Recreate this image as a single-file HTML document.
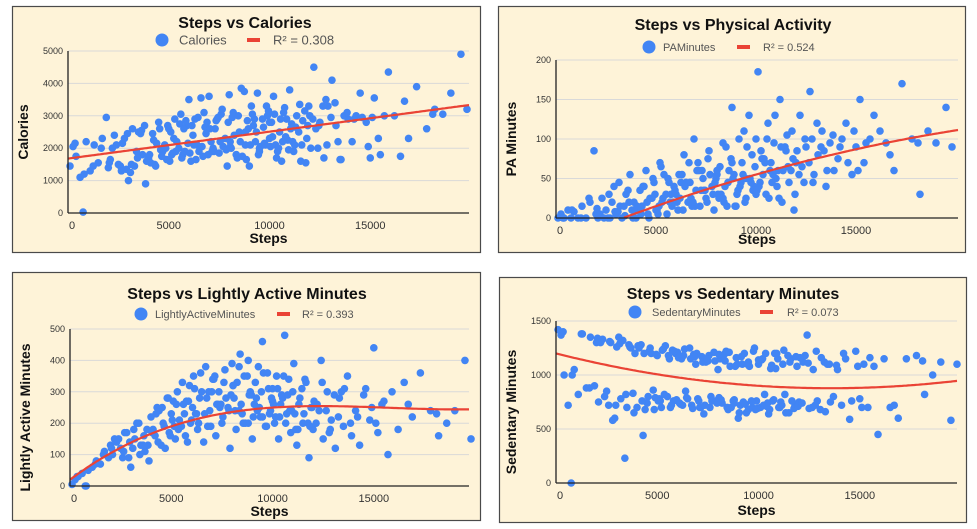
<!DOCTYPE html>
<html><head><meta charset="utf-8"><style>
html,body{margin:0;padding:0;background:#fff;}
svg{display:block;font-family:"Liberation Sans",Arial,sans-serif;}
</style></head><body>
<svg id="root" width="977" height="529" viewBox="0 0 977 529"></svg>
<script>
// ---- data ----
const steps = [
100,250,400,600,750,900,1100,1300,1500,1700,1900,2000,
2100,2300,2500,2700,2900,3000,3200,3300,3500,3700,3800,3900,
4000,4200,4300,4500,4600,4800,4900,5000,5200,5300,5500,5600,5800,5900,
6000,6100,6300,6400,6600,6700,6900,7000,7200,7300,7500,7600,7800,7900,8000,
8100,8200,8400,8500,8600,8800,8900,9000,9100,9300,9400,9500,9700,9800,9900,10000,
10100,10200,10300,10500,10600,10700,10900,11000,11200,11300,11500,11600,11800,11900,
12000,12200,12400,12500,12700,12900,13100,13300,13500,13700,13900,
14100,14300,14500,14800,15000,15200,15400,15700,15900,
16200,16500,16900,17300,17800,18200,18600,19000,19500,19800,
2200,2600,2800,3100,3400,3600,
4100,4400,4700,5100,5400,5700,
6200,6500,6800,7100,7400,7700,
8250,8650,8950,9250,9550,9850,
10150,10450,10850,11150,11450,11750,
12300,12800,13400];
const stepsExtra = [
350,800,1250,1650,2050,2400,2650,2950,3150,3450,3650,3850,
4050,4250,4350,4550,4650,4850,4950,5050,5250,5350,5550,5650,5850,5950,
6050,6150,6350,6450,6650,6750,6950,7050,7250,7350,7550,7650,7850,7950,
8050,8150,8350,8450,8550,8750,8850,9050,9150,9350,9450,9650,9750,9950,
10050,10250,10350,10550,10650,10750,10950,11050,11250,11350,11550,11650,11850,11950,
12050,12150,12450,12650,12850,13050,13250,13550,13850,
14200,14600,14900,15100,15500,16700,18100,
5150,5750,6250,6850,7150,7450,8050,8350,8800,9200,9500,10000,10400,10800,11100];
const calories = [
1450,2050,1750,1100,30,2200,1300,2100,1550,2300,2950,1400,
1650,2400,1500,2150,1350,1000,2600,1450,2500,1800,2700,1600,
1700,2450,1500,2800,1950,2100,1650,2600,1850,2900,2000,3050,1900,2700,
3500,1600,2900,2100,3550,1750,2800,3600,2000,2600,1850,3050,2300,1450,3650,
2000,3100,1700,2500,3850,2100,2850,1450,3300,2200,3700,1900,2650,2100,3000,2300,
2800,3600,2100,2500,1600,3100,2250,3800,1900,2650,3350,2100,1550,2700,
3000,4500,2000,2800,1700,3300,4100,2700,1650,3000,2900,
2200,3000,3700,2800,1700,3550,2300,3000,4350,
3000,1750,2300,3900,2600,3200,3050,3700,4900,3200,
2000,1450,2300,1250,1900,2450,
1550,2150,1900,2500,2200,1800,
2400,1900,2650,2200,2900,2050,
2400,1750,2600,2900,2050,3300,
2350,2000,2900,2200,2500,3150,
2600,3500,2200];
const caloriesExtra = [
2150,1200,1450,2000,1550,2100,1300,2450,1500,1700,2550,900,
1800,2250,1450,2600,1750,2000,2700,1600,2300,1900,2750,1700,2850,2150,
1850,2700,1650,2950,2050,3100,1800,2600,1900,2850,2200,3200,1950,2800,
2050,2950,1800,3000,2200,3750,1650,2100,3050,2500,1800,2900,2150,3150,
2050,3050,1700,2900,2200,3250,1950,2600,2100,3000,1600,2850,2300,3300,
2000,2900,2700,3300,2100,2950,3400,1650,3100,
2900,2950,2050,2950,1800,3450,3050,
1800,2600,2100,2450,1900,2950,2200,1800,2500,2700,2000,2800,1900,2350,2750];
const paMinutes = [
0,5,0,10,0,8,0,15,0,20,85,5,
0,25,10,0,40,5,15,0,30,55,10,20,
0,35,15,60,5,25,45,10,70,20,30,50,15,40,
30,10,55,80,20,45,100,35,15,60,25,75,40,10,50,
30,65,20,90,45,140,55,15,35,70,110,25,50,80,40,100,
185,45,75,30,120,60,95,50,150,20,85,65,110,10,
70,130,45,90,160,55,80,110,40,95,60,
75,100,120,55,90,150,70,100,130,
110,95,60,170,100,30,110,95,140,90,
5,0,20,8,15,35,
10,40,25,5,55,20,
25,45,15,70,35,55,
30,60,15,45,90,35,
40,70,55,25,90,60,
65,100,85];
const paMinutesExtra = [
0,10,0,25,12,0,30,8,45,3,20,0,
15,5,40,20,0,50,30,10,65,25,5,45,20,35,
20,55,10,40,70,25,15,60,35,50,20,85,30,45,
60,25,95,40,15,75,50,30,100,55,20,130,45,65,
35,85,55,100,25,70,130,40,90,60,105,45,75,30,
85,55,100,70,45,120,90,60,105,
90,70,110,60,95,80,95,
15,30,45,20,60,35,55,25,70,40,50,30,75,45,60];
const lightlyActive = [
5,20,30,40,0,50,60,80,70,110,90,130,
100,140,120,170,90,60,150,200,130,110,180,80,
220,160,250,130,200,280,170,230,150,300,190,260,140,320,
210,350,180,280,140,380,240,300,160,260,200,330,250,120,390,
280,180,420,230,350,200,300,150,260,380,220,460,190,310,240,270,
200,350,150,280,480,230,170,300,130,260,200,340,90,250,
180,260,400,150,300,210,120,280,190,350,160,
240,130,290,210,440,170,260,100,300,
180,330,220,360,240,160,200,240,400,150,
150,90,170,120,200,130,
180,240,120,270,210,160,
230,300,190,340,250,280,
330,200,290,240,360,230,
220,290,240,180,310,200,
240,170,300];
const lightlyActiveExtra = [
30,0,70,100,120,150,110,140,180,100,160,130,
170,230,140,250,190,280,160,210,260,180,330,230,270,200,
250,310,200,360,230,280,190,340,260,300,220,370,240,290,
320,240,380,260,200,350,290,220,330,250,300,190,360,280,
260,310,220,350,200,290,240,390,180,280,230,330,190,250,
270,200,330,240,180,290,220,310,200,
220,310,250,200,270,260,230,
190,270,230,300,350,260,320,240,400,280,220,310,260,340,230];
const sedentary = [
1420,1370,1000,720,0,1050,820,1380,880,1350,900,1300,
750,1330,850,1300,600,1260,780,1320,700,1250,830,1200,
700,1280,440,740,1220,860,790,1180,700,1240,800,1150,760,1200,
1210,740,1180,850,1250,720,1100,780,1170,640,1130,700,1210,760,1050,
1150,740,1220,680,1080,770,1160,600,720,1200,650,1120,700,1250,760,1100,
700,1150,820,640,1060,760,1200,700,1100,820,650,1150,720,1080,
750,1120,1370,690,1050,760,1160,660,1100,800,1050,
720,1150,590,1220,780,1100,700,1080,450,
1150,700,600,1150,1180,820,1000,1120,580,1100,
1300,720,580,1350,230,1280,
1250,680,1200,780,1270,720,
1150,780,1190,700,1120,760,
1170,700,1100,750,1080,680,
1140,740,1060,720,1180,690,
1180,720,1100];
const sedentaryExtra = [
1400,1000,1380,880,1340,800,1310,720,1290,820,1260,650,
1270,760,1200,800,1250,680,1190,760,1230,820,1180,700,1220,770,
1160,730,1240,790,1150,690,1200,760,1120,720,1180,800,1130,740,
1190,770,1130,700,1210,760,1080,650,1170,730,1100,760,1220,690,
1130,720,1200,680,1090,770,1150,700,1230,650,1120,760,1170,710,
1160,740,1110,700,1220,680,1120,750,1090,
1200,760,1080,700,1160,720,1130,
760,1230,720,1170,700,1150,790,1200,740,1100,680,1140,710,1200,750];
const xTicks = [0,5000,10000,15000];
const calTicks = [0,1000,2000,3000,4000,5000];
const paTicks = [0,50,100,150,200];
const laTicks = [0,100,200,300,400,500];
const sedTicks = [0,500,1000,1500];
// trend coefficients (x in thousands of steps): c0 + c1*x + c2*x^2 + c3*x^3
const calTrend = [1680,83,0,0];
const paTrend = [-33,10.4,-0.16,0];
const laTrend = [20,48.4,-3.225,0.0683];
const sedTrend = [1200,-47.5,1.75,0];

const allSteps = steps.concat(stepsExtra);

const NS="http://www.w3.org/2000/svg";
const root=document.getElementById('root');
function mk(tag,attrs,parent){const e=document.createElementNS(NS,tag);for(const k in attrs)e.setAttribute(k,attrs[k]);(parent||root).appendChild(e);return e;}

function panel(cfg){
  const g=mk('g',{});
  
  
  const bg=mk('rect',{x:cfg.box[0]+0.5,y:cfg.box[1]+0.5,width:cfg.box[2],height:cfg.box[3],fill:'#fef3d8',stroke:'#4a4a4a','stroke-width':1.2},g);
  
  
  const X=v=>cfg.x0+(v/cfg.xmax)*(cfg.x1-cfg.x0);
  const Y=v=>cfg.y1-(v/cfg.ymax)*(cfg.y1-cfg.y0);
  cfg.yTicks.forEach(t=>{
    const y=Y(t);
    if(t>0){const l=mk('line',{x1:cfg.x0,x2:cfg.x1,y1:y,y2:y,stroke:'#d9d9d9','stroke-width':1},g);
      
      }
    const tx=mk('text',{x:cfg.x0-5,y:y+3,'font-size':9,'text-anchor':'end',fill:'#333'},g);
    
    
    tx.textContent=t;
  });
  xTicks.forEach(t=>{
    const tx=mk('text',{x:X(t)+(t===0?4:0),y:cfg.y1+16,'font-size':11,'text-anchor':'middle',fill:'#333'},g);
    
    
    tx.textContent=t;
  });
  const ys=cfg.values;
  allSteps.forEach((s,i)=>{
    const c=mk('circle',{cx:X(s),cy:Y(ys[i]),r:3.8,fill:'#4285f4'},g);
    
    
  });
  const tr=cfg.trend;let d='';let started=false;
  for(let s=0;s<=cfg.xmax;s+=100){
    const k=s/1000;const v=tr[0]+tr[1]*k+tr[2]*k*k+tr[3]*k*k*k;
    if(v<0)continue;
    d+=(started?'L':'M')+X(s).toFixed(1)+','+Y(v).toFixed(1);started=true;
  }
  const p=mk('path',{d:d,fill:'none',stroke:'#ea4335','stroke-width':2.2},g);
  
  
  const ax=mk('line',{x1:cfg.x0,x2:cfg.x1,y1:cfg.y1,y2:cfg.y1,stroke:'#222','stroke-width':1.3},g);
  
  
  const ay=mk('line',{x1:cfg.x0,x2:cfg.x0,y1:cfg.y0,y2:cfg.y1,stroke:'#222','stroke-width':1.3},g);
  
  
  const ti=mk('text',{x:cfg.titleX,y:cfg.titleY+6,'font-size':16,'font-weight':'bold','text-anchor':'middle',fill:'#111'},g);
  
  
  ti.textContent=cfg.title;
  const L=cfg.legend;
  const lc=mk('circle',{cx:L.cx,cy:L.y,r:6.5,fill:'#4285f4'},g);
  
  
  const lt=mk('text',{x:L.tx,y:L.y+L.fs*0.36,'font-size':L.fs,fill:'#555'},g);
  
  
  lt.textContent=cfg.series;
  const ll=mk('line',{x1:L.lx,x2:L.lx+13,y1:L.y,y2:L.y,stroke:'#ea4335','stroke-width':4},g);
  
  
  const lr=mk('text',{x:L.rx,y:L.y+L.fs*0.36,'font-size':L.fs,fill:'#555'},g);
  
  
  lr.textContent=cfg.r2;
  const xt=mk('text',{x:(cfg.x0+cfg.x1)/2,y:cfg.xTitleY+5,'font-size':14,'font-weight':'bold','text-anchor':'middle',fill:'#111'},g);
  
  
  xt.textContent='Steps';
  const cy=(cfg.y0+cfg.y1)/2+cfg.yTitleDy;
  const yt=mk('text',{x:cfg.yTitleX,y:cy,'font-size':14,'font-weight':'bold','text-anchor':'middle',fill:'#111',transform:`rotate(-90 ${cfg.yTitleX} ${cy})`},g);
  
  
  yt.textContent=cfg.ytitle;
}

panel({name:'steps-vs-calories-chart',box:[12,6,468,246],x0:68,x1:469,y0:51,y1:213,xmax:19900,ymax:5000,yTicks:calTicks,
  values:calories.concat(caloriesExtra),trend:calTrend,title:'Steps vs Calories',titleX:245,titleY:22,series:'Calories',r2:'R² = 0.308',
  legend:{cx:162,tx:179,lx:247,rx:273,y:40,fs:13},xTitleY:238,yTitleX:28,yTitleDy:0,ytitle:'Calories'});
panel({name:'steps-vs-physical-activity-chart',box:[498,6,467,246],x0:556,x1:958,y0:60,y1:218,xmax:20100,ymax:200,yTicks:paTicks,
  values:paMinutes.concat(paMinutesExtra),trend:paTrend,title:'Steps vs Physical Activity',titleX:733,titleY:24,series:'PAMinutes',r2:'R² = 0.524',
  legend:{cx:649,tx:663,lx:737,rx:763,y:47,fs:11},xTitleY:239,yTitleX:516,yTitleDy:0,ytitle:'PA Minutes'});
panel({name:'steps-vs-lightly-active-chart',box:[12,272,468,248],x0:70,x1:469,y0:329,y1:486,xmax:19700,ymax:500,yTicks:laTicks,
  values:lightlyActive.concat(lightlyActiveExtra),trend:laTrend,title:'Steps vs Lightly Active Minutes',titleX:247,titleY:293,series:'LightlyActiveMinutes',r2:'R² = 0.393',
  legend:{cx:141,tx:155,lx:277,rx:302,y:314,fs:11},xTitleY:511,yTitleX:30,yTitleDy:10,ytitle:'Lightly Active Minutes'});
panel({name:'steps-vs-sedentary-chart',box:[499,277,467,245],x0:556,x1:957,y0:321,y1:483,xmax:19800,ymax:1500,yTicks:sedTicks,
  values:sedentary.concat(sedentaryExtra),trend:sedTrend,title:'Steps vs Sedentary Minutes',titleX:733,titleY:293,series:'SedentaryMinutes',r2:'R² = 0.073',
  legend:{cx:635,tx:652,lx:760,rx:787,y:312,fs:11},xTitleY:510,yTitleX:516,yTitleDy:10,ytitle:'Sedentary Minutes'});
</script>
</body></html>
